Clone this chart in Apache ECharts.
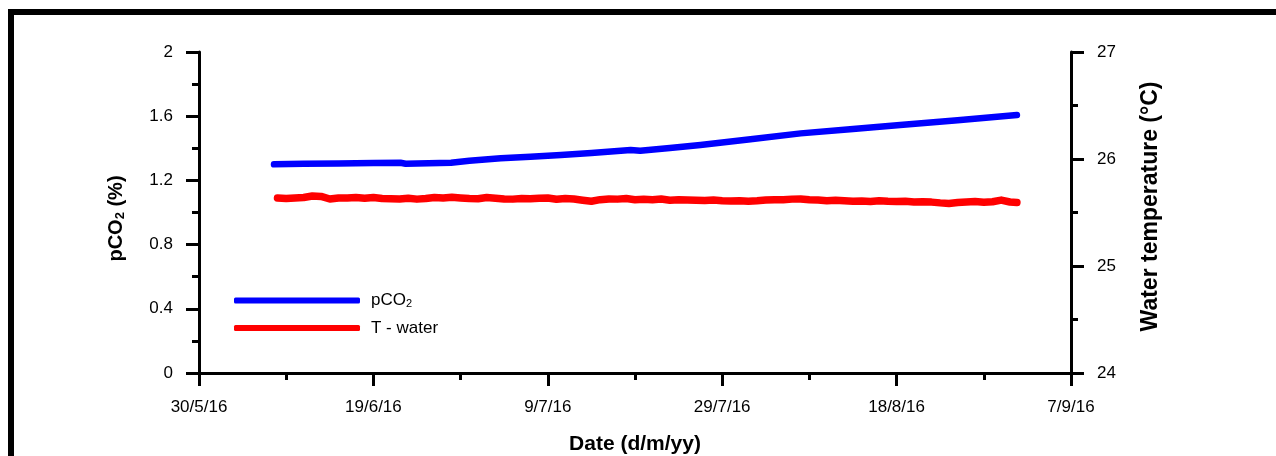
<!DOCTYPE html>
<html>
<head>
<meta charset="utf-8">
<script src="https://cdn.jsdelivr.net/npm/echarts@6/dist/echarts.min.js"></script>
<style>
  html, body { margin: 0; padding: 0; background: #fff; }
  #wrap { position: relative; width: 1276px; height: 456px; overflow: hidden; }
  #frame { position: absolute; left: 8px; top: 9px; width: 1400px; height: 600px;
           border-top: 6px solid #000; border-left: 6px solid #000; box-sizing: border-box; }
  #chart { position: absolute; left: 0; top: 0; width: 1276px; height: 456px; }
</style>
</head>
<body>
<div id="wrap">
  <div id="frame"></div>
  <div id="chart"></div>
</div>
<script>
// x axis: days since 30/5/16
const xTickLabels = ['30/5/16', '19/6/16', '9/7/16', '29/7/16', '18/8/16', '7/9/16'];

// pCO2 (%) readings
const pco2Days = [8.6, 12, 16, 20, 23.1, 23.7, 25, 28.9, 31, 34.6, 38, 41.5, 45, 49.5, 50.6, 54, 57.5, 63, 69, 75, 80.4, 87, 93.8];
const pco2Vals = [1.300, 1.303, 1.306, 1.309, 1.310, 1.304, 1.305, 1.310, 1.322, 1.338, 1.348, 1.358, 1.371, 1.389, 1.385, 1.402, 1.421, 1.455, 1.493, 1.520, 1.545, 1.575, 1.607];

// Water temperature (°C), daily readings
const tDays = [9, 10, 11, 12, 13, 14, 15, 16, 17, 18, 19, 20, 21, 22, 23, 24, 25, 26, 27, 28,
  29, 30, 31, 32, 33, 34, 35, 36, 37, 38, 39, 40, 41, 42, 43, 44, 45, 46, 47, 48,
  49, 50, 51, 52, 53, 54, 55, 56, 57, 58, 59, 60, 61, 62, 63, 64, 65, 66, 67, 68,
  69, 70, 71, 72, 73, 74, 75, 76, 77, 78, 79, 80, 81, 82, 83, 84, 85, 86, 87, 88,
  89, 90, 91, 92, 93, 93.8];
const tVals = [25.636, 25.630, 25.636, 25.640, 25.654, 25.650, 25.626, 25.636, 25.636, 25.640,
  25.634, 25.640, 25.630, 25.628, 25.626, 25.634, 25.625, 25.630, 25.640, 25.636,
  25.642, 25.636, 25.630, 25.628, 25.640, 25.634, 25.626, 25.625, 25.630, 25.628,
  25.634, 25.636, 25.624, 25.630, 25.626, 25.615, 25.605, 25.620, 25.626, 25.625,
  25.630, 25.620, 25.624, 25.620, 25.626, 25.615, 25.620, 25.617, 25.615, 25.612,
  25.616, 25.610, 25.607, 25.610, 25.606, 25.610, 25.616, 25.620, 25.620, 25.625,
  25.626, 25.620, 25.616, 25.610, 25.615, 25.610, 25.606, 25.607, 25.602, 25.610,
  25.605, 25.602, 25.606, 25.598, 25.600, 25.597, 25.590, 25.585, 25.594, 25.598,
  25.602, 25.596, 25.600, 25.616, 25.598, 25.594];

const FONT = '"Liberation Sans", Arial, sans-serif';

const chart = echarts.init(document.getElementById('chart'), null, { renderer: 'canvas' });

const axisCommon = {
  axisLine: { show: true, lineStyle: { color: '#000', width: 3 } },
  axisTick: { show: true, inside: false, length: 13, lineStyle: { color: '#000', width: 3 } },
  minorTick: { show: true, splitNumber: 2, length: 7, lineStyle: { color: '#000', width: 3 } },
  splitLine: { show: false },
  minorSplitLine: { show: false },
  axisLabel: { color: '#000', fontFamily: FONT, fontSize: 17, margin: 26 }
};

chart.setOption({
  animation: false,
  backgroundColor: 'transparent',
  grid: { left: 199, right: 205, top: 52, bottom: 83, containLabel: false, outerBoundsMode: 'none' },
  xAxis: Object.assign({}, axisCommon, {
    type: 'value', min: 0, max: 100, interval: 20,
    axisLabel: Object.assign({}, axisCommon.axisLabel, {
      formatter: v => xTickLabels[Math.round(v / 20)] || ''
    }),
    name: 'Date (d/m/yy)', nameLocation: 'middle', nameGap: 61,
    nameTextStyle: { color: '#000', fontFamily: FONT, fontSize: 21, fontWeight: 'bold' }
  }),
  yAxis: [
    Object.assign({}, axisCommon, {
      type: 'value', min: 0, max: 2, interval: 0.4, position: 'left',
      axisLabel: Object.assign({}, axisCommon.axisLabel, { align: 'right' }),
      name: '{b|pCO}{s|2}{b| (%)}', nameLocation: 'middle', nameRotate: 90, nameGap: 72,
      nameTextStyle: {
        color: '#000', fontFamily: FONT, fontSize: 20, fontWeight: 'bold',
        padding: [0, 12, 0, 0],
        rich: {
          b: { fontFamily: FONT, fontSize: 20, fontWeight: 'bold', color: '#000', lineHeight: 22 },
          s: { fontFamily: FONT, fontSize: 13, fontWeight: 'bold', color: '#000', lineHeight: 22, verticalAlign: 'bottom', padding: [8, 0, 0, 0] }
        }
      }
    }),
    Object.assign({}, axisCommon, {
      type: 'value', min: 24, max: 27, interval: 1, position: 'right',
      axisLabel: Object.assign({}, axisCommon.axisLabel, { align: 'left' }),
      name: 'Water temperature (°C)', nameLocation: 'middle', nameRotate: 90, nameGap: 68,
      nameTextStyle: { color: '#000', fontFamily: FONT, fontSize: 23, fontWeight: 'bold', padding: [0, 0, 0, 12] }
    })
  ],
  legend: {
    orient: 'vertical', left: 229, top: 287, itemGap: 10,
    itemWidth: 126, itemHeight: 6, icon: 'roundRect',
    data: ['pCO2', 'T - water'],
    formatter: name => name === 'pCO2' ? '{n|pCO}{s|2}' : '{n|T - water}',
    textStyle: {
      color: '#000', fontFamily: FONT, fontSize: 17, padding: [0, 0, 0, 6],
      rich: {
        n: { fontFamily: FONT, fontSize: 17, color: '#000', lineHeight: 18 },
        s: { fontFamily: FONT, fontSize: 11, color: '#000', lineHeight: 18, verticalAlign: 'bottom' }
      }
    }
  },
  series: [
    {
      name: 'pCO2', type: 'line', xAxisIndex: 0, yAxisIndex: 0,
      data: pco2Days.map((d, i) => [d, pco2Vals[i]]),
      showSymbol: false, symbol: 'none', smooth: false,
      lineStyle: { color: '#0000FF', width: 6.5, cap: 'round', join: 'round' },
      itemStyle: { color: '#0000FF' }, z: 3
    },
    {
      name: 'T - water', type: 'line', xAxisIndex: 0, yAxisIndex: 1,
      data: tDays.map((d, i) => [d, tVals[i]]),
      showSymbol: false, symbol: 'none', smooth: false,
      lineStyle: { color: '#FF0000', width: 7.5, cap: 'round', join: 'round' },
      itemStyle: { color: '#FF0000' }, z: 2
    }
  ]
});
</script>
</body>
</html>
